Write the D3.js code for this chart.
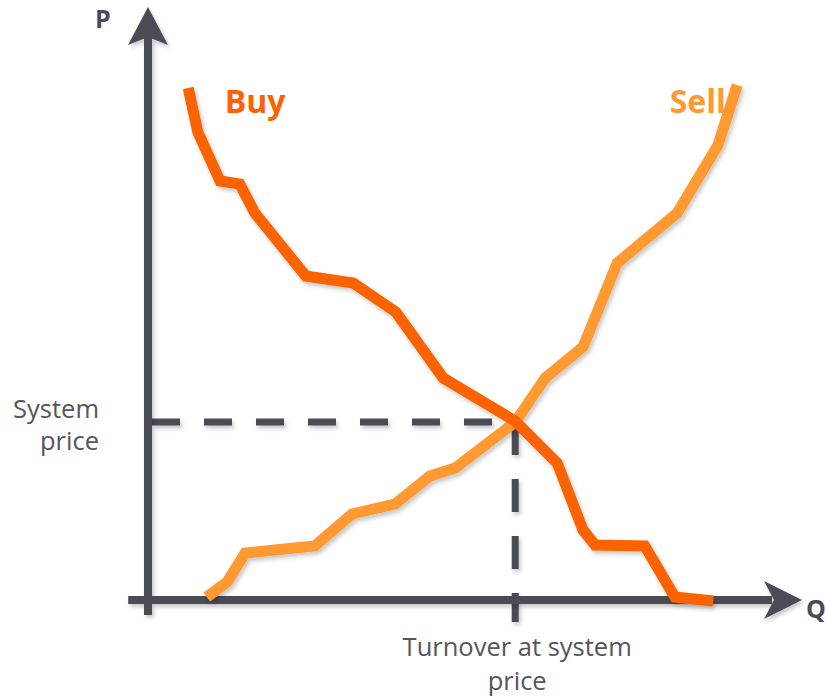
<!DOCTYPE html>
<html>
<head>
<meta charset="utf-8">
<script src="https://cdn.jsdelivr.net/npm/d3@7"></script>
<style>
  html, body { margin: 0; padding: 0; background: #fff; }
  svg { display: block; }
</style>
</head>
<body>
<svg id="chart" width="825" height="696"></svg>
<script>
// ---- data (Q = quantity, P = price, arbitrary units) ----
const buyQ  = [6.7, 8.3, 12.0, 15.3, 17.8, 26.3, 34.2, 41.3, 49.2, 61.2, 68.2, 72.5, 74.5, 82.8, 87.8, 94.2];
const buyP  = [102.4, 93.6, 83.8, 83.2, 77.4, 64.8, 63.4, 57.6, 44.4, 35.8, 27.4, 14.0, 11.0, 10.8, 0.6, -0.2];
const sellQ = [9.8, 13.2, 16.2, 27.8, 34.0, 41.2, 47.0, 51.2, 61.2, 66.2, 72.5, 78.2, 88.2, 95.0, 98.2];
const sellP = [0.6, 3.6, 9.4, 10.8, 17.2, 19.2, 24.8, 26.4, 35.6, 44.4, 50.6, 67.4, 77.4, 91.0, 103.0];
const systemPrice = 35.6;
const turnover = 61.2;
const seriesNames = ["Buy", "Sell"];
const priceLabel = ["System", "price"];
const turnoverLabel = ["Turnover at system", "price"];
const axisNames = ["P", "Q"];

// ---- scales ----
const x = d3.scaleLinear().domain([0, 100]).range([148, 748]);
const y = d3.scaleLinear().domain([0, 100]).range([600, 100]);

const svg = d3.select("#chart");
const axisColor = "#4b4b56";
const buyColor = "#fa6400";
const sellColor = "#ff9933";
const font = "'Open Sans', Lato, sans-serif";

const defs = svg.append("defs");
const f = defs.append("filter").attr("id", "shadow")
  .attr("x", "-10%").attr("y", "-10%").attr("width", "120%").attr("height", "120%");
f.append("feDropShadow").attr("dx", 2).attr("dy", 3).attr("stdDeviation", 2)
  .attr("flood-color", "#000").attr("flood-opacity", 0.22);

// ---- labels (drawn first so the curves overlap them) ----
svg.append("text").text(seriesNames[0])
  .attr("x", x(12.8)).attr("y", 113)
  .attr("font-family", font).attr("font-weight", 700).attr("font-size", 32)
  .attr("fill", buyColor);
svg.append("text").text(seriesNames[1])
  .attr("x", x(96.3)).attr("y", 113).attr("text-anchor", "end")
  .attr("font-family", font).attr("font-weight", 700).attr("font-size", 32)
  .attr("fill", sellColor);

svg.append("text").text(axisNames[0])
  .attr("x", 95).attr("y", 28)
  .attr("font-family", font).attr("font-weight", 700).attr("font-size", 25)
  .attr("fill", axisColor);
svg.append("text").text(axisNames[1])
  .attr("x", 806).attr("y", 618)
  .attr("font-family", font).attr("font-weight", 700).attr("font-size", 25)
  .attr("fill", axisColor);

const pl = svg.append("text")
  .attr("font-family", font).attr("font-size", 25.5).attr("fill", "#555560")
  .attr("text-anchor", "end");
priceLabel.forEach((t, i) => {
  pl.append("tspan").text(t).attr("x", 99).attr("y", y(systemPrice) - 4 + i * 32);
});
const tl = svg.append("text")
  .attr("font-family", font).attr("font-size", 25.5).attr("fill", "#555560")
  .attr("text-anchor", "middle");
turnoverLabel.forEach((t, i) => {
  tl.append("tspan").text(t).attr("x", x(turnover) + 2).attr("y", 656 + i * 34);
});

// ---- dashed guide lines ----
const guides = svg.append("g").attr("filter", "url(#shadow)");
guides.append("line")
  .attr("x1", x(0) + 4).attr("x2", x(turnover))
  .attr("y1", y(systemPrice)).attr("y2", y(systemPrice))
  .attr("stroke", axisColor).attr("stroke-width", 7)
  .attr("stroke-dasharray", "28,24");
guides.append("line")
  .attr("x1", x(turnover)).attr("x2", x(turnover))
  .attr("y1", y(systemPrice)).attr("y2", y(-4.4))
  .attr("stroke", axisColor).attr("stroke-width", 7)
  .attr("stroke-dasharray", "33,24");

// ---- axes ----
const axes = svg.append("g").attr("filter", "url(#shadow)");
const yTop = y(118.6), yBot = y(-3);
const xLeft = x(-3.3), xRight = x(109);
axes.append("line")
  .attr("x1", x(0)).attr("x2", x(0)).attr("y1", yBot).attr("y2", yTop + 30)
  .attr("stroke", axisColor).attr("stroke-width", 8);
axes.append("path")
  .attr("d", `M${x(0)},${yTop} L${x(0) + 20},${yTop + 38} L${x(0)},${yTop + 30} L${x(0) - 20},${yTop + 38} Z`)
  .attr("fill", axisColor);
axes.append("line")
  .attr("x1", xLeft).attr("x2", xRight - 30).attr("y1", y(0)).attr("y2", y(0))
  .attr("stroke", axisColor).attr("stroke-width", 8);
axes.append("path")
  .attr("d", `M${xRight},${y(0)} L${xRight - 38},${y(0) - 19} L${xRight - 28},${y(0)} L${xRight - 38},${y(0) + 19} Z`)
  .attr("fill", axisColor);

// ---- curves ----
const line = d3.line().x(d => x(d[0])).y(d => y(d[1]));
const buy = buyQ.map((q, i) => [q, buyP[i]]);
const sell = sellQ.map((q, i) => [q, sellP[i]]);
const curves = svg.append("g").attr("filter", "url(#shadow)");
curves.append("path").datum(sell).attr("d", line)
  .attr("fill", "none").attr("stroke", sellColor).attr("stroke-width", 11)
  .attr("stroke-linejoin", "miter").attr("stroke-linecap", "butt");
curves.append("path").datum(buy).attr("d", line)
  .attr("fill", "none").attr("stroke", buyColor).attr("stroke-width", 11)
  .attr("stroke-linejoin", "miter").attr("stroke-linecap", "butt");
</script>
</body>
</html>
